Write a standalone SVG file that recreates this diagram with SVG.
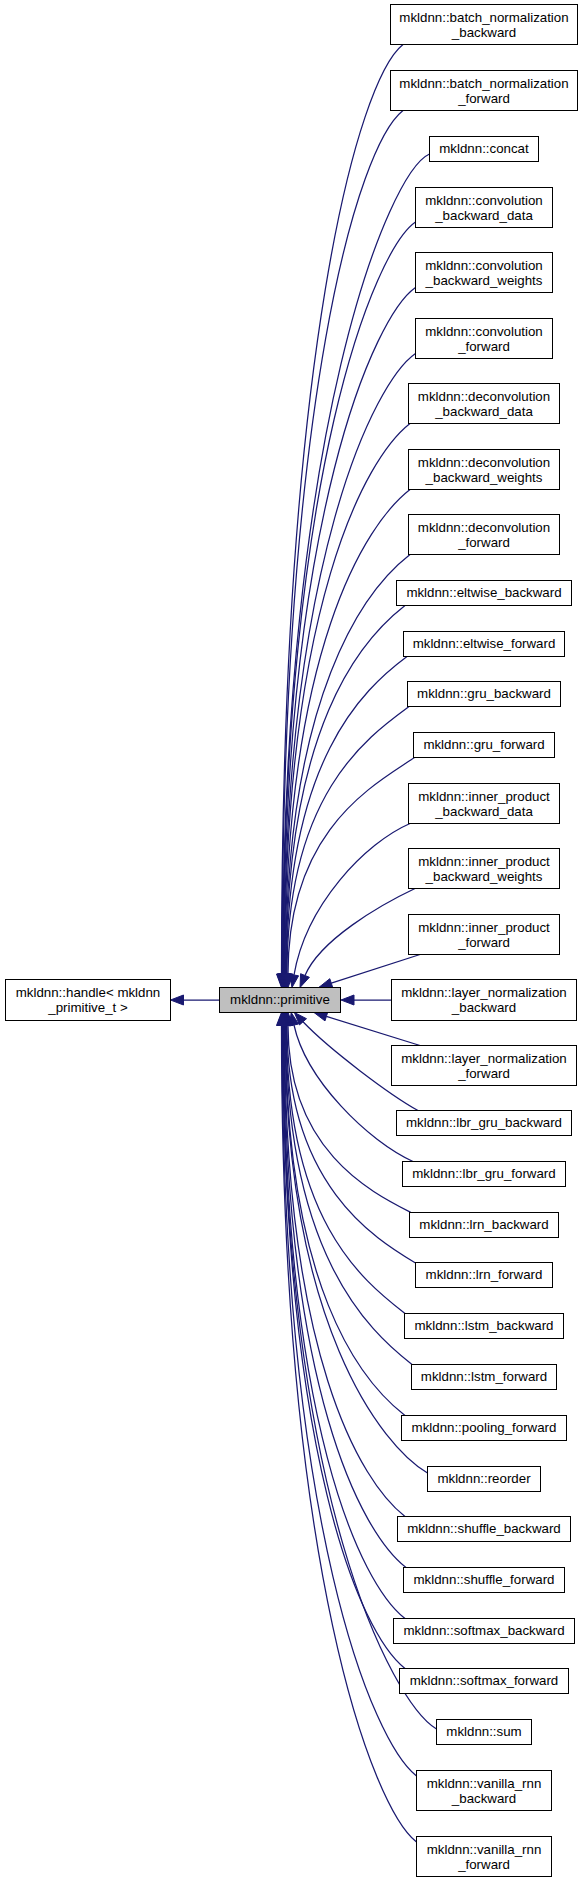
<svg xmlns="http://www.w3.org/2000/svg" width="584" height="1881" viewBox="0 0 584 1881">
<style>
.n rect{fill:#fff;stroke:#000;stroke-width:1}
.n text{font-family:"Liberation Sans",Arial,sans-serif;font-size:13.3px;text-anchor:middle;fill:#000}
#primitive rect{fill:#bfbfbf}
.e path{fill:none;stroke:#191970;stroke-width:1.25}
.e polygon{fill:#191970;stroke:#191970;stroke-width:1}
</style>
<rect width="584" height="1881" fill="#fff"/>
<g class="e" id="connectors">
<path d="M219.5,1000 L183.5,1000"/><polygon points="183.5,995 183.5,1005 170.5,1000"/>
<path d="M391.5,1000 L354,1000"/><polygon points="354,995 354,1005 341,1000"/>
<path d="M403,44.5 C358,80 281.5,351 281.5,974"/><polygon points="276.5,974 286.5,974 281.5,987.5"/>
<path d="M403,110.5 C358,146 282,395.5 282,974"/><polygon points="277,974 287,974 282,987.5"/>
<path d="M429.5,154 C389,172 282.5,424.6 282.5,974"/><polygon points="277.5,974 287.5,974 282.5,987.5"/>
<path d="M415.5,222 C375,250 283,470 283,974"/><polygon points="278,974 288,974 283,987.5"/>
<path d="M415.5,287.5 C375,315.5 283.5,514 283.5,974"/><polygon points="278.5,974 288.5,974 283.5,987.5"/>
<path d="M415.5,353.5 C375,381.5 284,558.3 284,974"/><polygon points="279,974 289,974 284,987.5"/>
<path d="M410,423.5 C365,458.5 284.5,605.2 284.5,974"/><polygon points="279.5,974 289.5,974 284.5,987.5"/>
<path d="M410,489.5 C365,524.5 285,649.5 285,974"/><polygon points="280,974 290,974 285,987.5"/>
<path d="M410,554.5 C365,589.5 285.5,693 285.5,974"/><polygon points="280.5,974 290.5,974 285.5,987.5"/>
<path d="M405,605.5 C360,640.5 286,727 286,974"/><polygon points="281,974 291,974 286,987.5"/>
<path d="M407,656.5 C362,690 286.5,761 286.5,974"/><polygon points="281.5,974 291.5,974 286.5,987.5"/>
<path d="M409,706.5 C366,738 287,795 287,974"/><polygon points="282,974 292,974 287,987.5"/>
<path d="M414.5,757.5 C374,785 288,829 288,974"/><polygon points="283,974 293,974 288,987.5"/>
<path d="M410,823.5 C365,843 306,905 294,975"/><polygon points="298.6,975.8 289.4,974.2 292,987.5"/>
<path d="M415,888.5 C380,905 320,940 305,975.5"/><polygon points="309.4,977.3 300.6,973.7 300,987.5"/>
<path d="M420,954.5 L331.3,983.2"/><polygon points="332.8,987.7 329.8,978.7 319,987.3"/>
<path d="M420,1045.5 L326.4,1016.4"/><polygon points="327.8,1011.9 325,1020.9 314,1012.5"/>
<path d="M418,1110.5 C390,1095 330,1050 303,1021.8"/><polygon points="306.5,1018.7 299.5,1024.9 294.4,1012.5"/>
<path d="M413,1161.5 C368,1141 306,1080 294,1025"/><polygon points="298.6,1024 289.4,1026 291.2,1012.5"/>
<path d="M411,1212.5 C371,1192 288,1150.8 288,1025.5"/><polygon points="283,1025.5 293,1025.5 288,1012.5"/>
<path d="M415.5,1263 C374,1238 287,1184.6 287,1025.5"/><polygon points="282,1025.5 292,1025.5 287,1012.5"/>
<path d="M405,1313.5 C360,1278.5 286.5,1218.5 286.5,1025.5"/><polygon points="281.5,1025.5 291.5,1025.5 286.5,1012.5"/>
<path d="M412,1364.5 C367,1329.5 286,1252.6 286,1025.5"/><polygon points="281,1025.5 291,1025.5 286,1012.5"/>
<path d="M405,1415.5 C360,1380.5 285.5,1286.8 285.5,1025.5"/><polygon points="280.5,1025.5 290.5,1025.5 285.5,1012.5"/>
<path d="M427.5,1473 C382,1446 285,1325.3 285,1025.5"/><polygon points="280,1025.5 290,1025.5 285,1012.5"/>
<path d="M405,1516.5 C360,1481.5 284.5,1354.5 284.5,1025.5"/><polygon points="279.5,1025.5 289.5,1025.5 284.5,1012.5"/>
<path d="M406,1567.5 C361,1532.5 284,1388.6 284,1025.5"/><polygon points="279,1025.5 289,1025.5 284,1012.5"/>
<path d="M405,1618.5 C360,1583.5 283.5,1422.8 283.5,1025.5"/><polygon points="278.5,1025.5 288.5,1025.5 283.5,1012.5"/>
<path d="M405,1668.5 C360,1633.5 283,1456.3 283,1025.5"/><polygon points="278,1025.5 288,1025.5 283,1012.5"/>
<path d="M436.5,1729 C392,1702 282.5,1496.8 282.5,1025.5"/><polygon points="277.5,1025.5 287.5,1025.5 282.5,1012.5"/>
<path d="M416.5,1776 C373,1742 282,1528.3 282,1025.5"/><polygon points="277,1025.5 287,1025.5 282,1012.5"/>
<path d="M416.5,1842 C373,1808 281.5,1572.6 281.5,1025.5"/><polygon points="276.5,1025.5 286.5,1025.5 281.5,1012.5"/>
</g>
<g class="n" id="primitive"><rect x="219.5" y="987.5" width="121" height="25"/><text x="280" y="1004">mkldnn::primitive</text></g>
<g class="n" id="handle"><rect x="5.5" y="979.5" width="165" height="41"/><text x="88" y="997">mkldnn::handle&lt; mkldnn</text><text x="88" y="1011.5">_primitive_t &gt;</text></g>
<g class="n" id="batch_normalization_backward"><rect x="390.5" y="4.5" width="187" height="40"/><text x="484" y="22">mkldnn::batch_normalization</text><text x="484" y="36.5">_backward</text></g>
<g class="n" id="batch_normalization_forward"><rect x="390.5" y="70.5" width="187" height="40"/><text x="484" y="88">mkldnn::batch_normalization</text><text x="484" y="102.5">_forward</text></g>
<g class="n" id="concat"><rect x="429.5" y="136.5" width="109" height="25"/><text x="484" y="153">mkldnn::concat</text></g>
<g class="n" id="convolution_backward_data"><rect x="415.5" y="187.5" width="137" height="40"/><text x="484" y="205">mkldnn::convolution</text><text x="484" y="219.5">_backward_data</text></g>
<g class="n" id="convolution_backward_weights"><rect x="415.5" y="252.5" width="137" height="40"/><text x="484" y="270">mkldnn::convolution</text><text x="484" y="284.5">_backward_weights</text></g>
<g class="n" id="convolution_forward"><rect x="415.5" y="318.5" width="137" height="40"/><text x="484" y="336">mkldnn::convolution</text><text x="484" y="350.5">_forward</text></g>
<g class="n" id="deconvolution_backward_data"><rect x="408.5" y="383.5" width="151" height="40"/><text x="484" y="401">mkldnn::deconvolution</text><text x="484" y="415.5">_backward_data</text></g>
<g class="n" id="deconvolution_backward_weights"><rect x="408.5" y="449.5" width="151" height="40"/><text x="484" y="467">mkldnn::deconvolution</text><text x="484" y="481.5">_backward_weights</text></g>
<g class="n" id="deconvolution_forward"><rect x="408.5" y="514.5" width="151" height="40"/><text x="484" y="532">mkldnn::deconvolution</text><text x="484" y="546.5">_forward</text></g>
<g class="n" id="eltwise_backward"><rect x="396.5" y="580.5" width="175" height="25"/><text x="484" y="597">mkldnn::eltwise_backward</text></g>
<g class="n" id="eltwise_forward"><rect x="403.5" y="631.5" width="161" height="25"/><text x="484" y="648">mkldnn::eltwise_forward</text></g>
<g class="n" id="gru_backward"><rect x="407.5" y="681.5" width="153" height="25"/><text x="484" y="698">mkldnn::gru_backward</text></g>
<g class="n" id="gru_forward"><rect x="413.5" y="732.5" width="141" height="25"/><text x="484" y="749">mkldnn::gru_forward</text></g>
<g class="n" id="inner_product_backward_data"><rect x="408.5" y="783.5" width="151" height="40"/><text x="484" y="801">mkldnn::inner_product</text><text x="484" y="815.5">_backward_data</text></g>
<g class="n" id="inner_product_backward_weights"><rect x="408.5" y="848.5" width="151" height="40"/><text x="484" y="866">mkldnn::inner_product</text><text x="484" y="880.5">_backward_weights</text></g>
<g class="n" id="inner_product_forward"><rect x="408.5" y="914.5" width="151" height="40"/><text x="484" y="932">mkldnn::inner_product</text><text x="484" y="946.5">_forward</text></g>
<g class="n" id="layer_normalization_backward"><rect x="391.5" y="979.5" width="185" height="41"/><text x="484" y="997">mkldnn::layer_normalization</text><text x="484" y="1011.5">_backward</text></g>
<g class="n" id="layer_normalization_forward"><rect x="391.5" y="1045.5" width="185" height="40"/><text x="484" y="1063">mkldnn::layer_normalization</text><text x="484" y="1077.5">_forward</text></g>
<g class="n" id="lbr_gru_backward"><rect x="396.5" y="1110.5" width="175" height="25"/><text x="484" y="1127">mkldnn::lbr_gru_backward</text></g>
<g class="n" id="lbr_gru_forward"><rect x="402.5" y="1161.5" width="163" height="25"/><text x="484" y="1178">mkldnn::lbr_gru_forward</text></g>
<g class="n" id="lrn_backward"><rect x="409.5" y="1212.5" width="149" height="25"/><text x="484" y="1229">mkldnn::lrn_backward</text></g>
<g class="n" id="lrn_forward"><rect x="415.5" y="1262.5" width="137" height="25"/><text x="484" y="1279">mkldnn::lrn_forward</text></g>
<g class="n" id="lstm_backward"><rect x="404.5" y="1313.5" width="159" height="25"/><text x="484" y="1330">mkldnn::lstm_backward</text></g>
<g class="n" id="lstm_forward"><rect x="411.5" y="1364.5" width="145" height="25"/><text x="484" y="1381">mkldnn::lstm_forward</text></g>
<g class="n" id="pooling_forward"><rect x="401.5" y="1415.5" width="165" height="25"/><text x="484" y="1432">mkldnn::pooling_forward</text></g>
<g class="n" id="reorder"><rect x="427.5" y="1466.5" width="113" height="25"/><text x="484" y="1483">mkldnn::reorder</text></g>
<g class="n" id="shuffle_backward"><rect x="397.5" y="1516.5" width="173" height="25"/><text x="484" y="1533">mkldnn::shuffle_backward</text></g>
<g class="n" id="shuffle_forward"><rect x="403.5" y="1567.5" width="161" height="25"/><text x="484" y="1584">mkldnn::shuffle_forward</text></g>
<g class="n" id="softmax_backward"><rect x="393.5" y="1618.5" width="181" height="25"/><text x="484" y="1635">mkldnn::softmax_backward</text></g>
<g class="n" id="softmax_forward"><rect x="399.5" y="1668.5" width="169" height="25"/><text x="484" y="1685">mkldnn::softmax_forward</text></g>
<g class="n" id="sum"><rect x="436.5" y="1719.5" width="95" height="25"/><text x="484" y="1736">mkldnn::sum</text></g>
<g class="n" id="vanilla_rnn_backward"><rect x="416.5" y="1770.5" width="135" height="40"/><text x="484" y="1788">mkldnn::vanilla_rnn</text><text x="484" y="1802.5">_backward</text></g>
<g class="n" id="vanilla_rnn_forward"><rect x="416.5" y="1836.5" width="135" height="40"/><text x="484" y="1854">mkldnn::vanilla_rnn</text><text x="484" y="1868.5">_forward</text></g>
</svg>
